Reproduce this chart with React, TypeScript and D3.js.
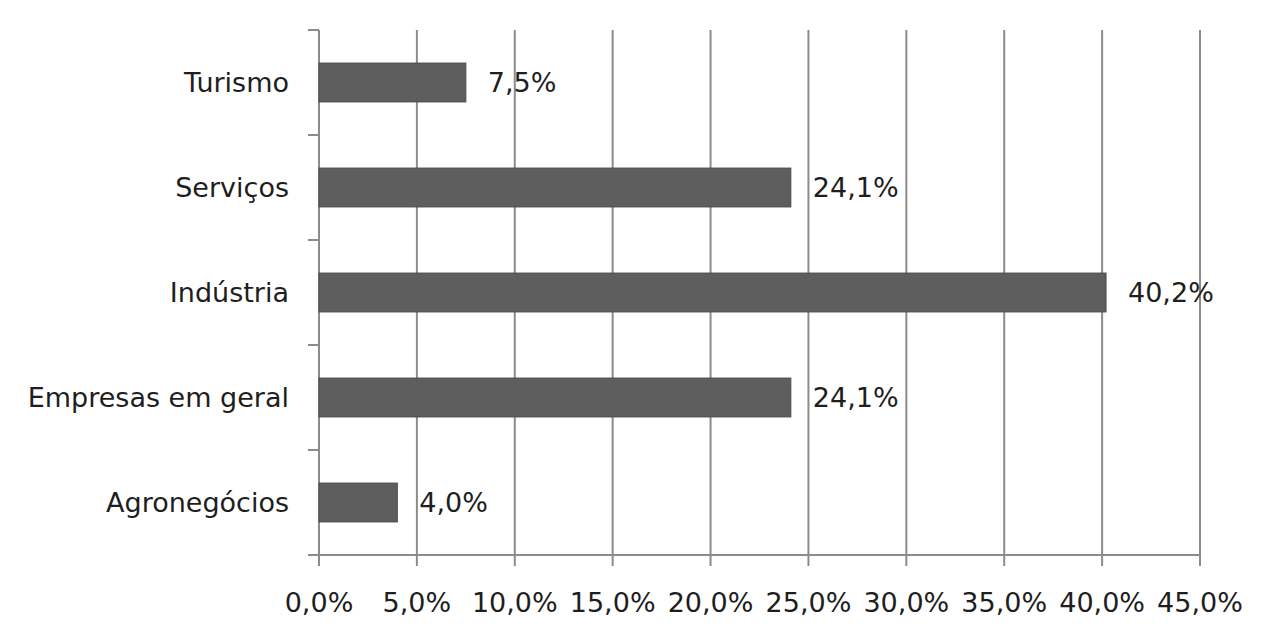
import React from "react";
import * as d3 from "d3";

const categories = ["Turismo", "Serviços", "Indústria", "Empresas em geral", "Agronegócios"];
const values = [7.5, 24.1, 40.2, 24.1, 4.0];
const xTicks = [0, 5, 10, 15, 20, 25, 30, 35, 40, 45];

const W = 1262;
const H = 628;
const left = 319;
const right = 1200;
const top = 30;
const bottom = 555;
const FONT = "'DejaVu Sans', sans-serif";
const FS = 27;
const fmt = (v: number) => v.toFixed(1).replace(".", ",") + "%";

export default function App() {
  const x = d3.scaleLinear().domain([0, 45]).range([left, right]);
  const y = d3.scaleBand<string>().domain(categories).range([top, bottom]).paddingInner(0.63).paddingOuter(0.315);
  const band = d3.scaleBand<string>().domain(categories).range([top, bottom]);
  const grid = "#8c8c8c";
  return (
    <svg width={W} height={H} style={{ position: "absolute", left: 0, top: 0, background: "#fff" }}>
      {xTicks.map((t) => (
        <line key={"g" + t} x1={x(t)} x2={x(t)} y1={top} y2={bottom + 11} stroke={grid} strokeWidth={2} />
      ))}
      <line x1={left - 11} x2={right} y1={bottom} y2={bottom} stroke={grid} strokeWidth={2} />
      {[...categories.map((c) => band(c) as number), bottom].map((v, i) => (
        <line key={"yt" + i} x1={left - 11} x2={left} y1={v} y2={v} stroke={grid} strokeWidth={2} />
      ))}
      {categories.map((c, i) => (
        <g key={c}>
          <rect
            x={x(0)}
            y={y(c)}
            width={x(values[i]) - x(0)}
            height={y.bandwidth()}
            fill="#5e5e5e"
            stroke="#4a4a4a"
            strokeWidth={1}
          />
          <text
            x={x(values[i]) + 22}
            y={(y(c) as number) + y.bandwidth() / 2}
            dominantBaseline="central"
            fontFamily={FONT}
            fontSize={FS}
            fill="#1e1e1e"
          >
            {fmt(values[i])}
          </text>
          <text
            x={left - 30}
            y={(band(c) as number) + band.bandwidth() / 2}
            dominantBaseline="central"
            textAnchor="end"
            fontFamily={FONT}
            fontSize={FS}
            fill="#1e1e1e"
          >
            {c}
          </text>
        </g>
      ))}
      {xTicks.map((t) => (
        <text key={"l" + t} x={x(t)} y={612} textAnchor="middle" fontFamily={FONT} fontSize={FS} fill="#1e1e1e">
          {fmt(t)}
        </text>
      ))}
    </svg>
  );
}
